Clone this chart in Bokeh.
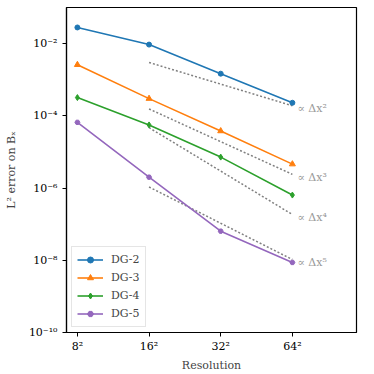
from bokeh.plotting import figure
from bokeh.models import FixedTicker, CustomJSTickFormatter, Range1d, Legend, LegendItem, ColumnDataSource
from bokeh.core.properties import value
from bokeh.embed import file_html
from bokeh.resources import INLINE

# data
resolution = [8, 16, 32, 64]
dg2 = [2.8e-2, 9.4e-3, 1.47e-3, 2.3e-4]
dg3 = [2.6e-3, 3.0e-4, 3.8e-5, 4.6e-6]
dg4 = [3.2e-4, 5.6e-5, 7.2e-6, 6.4e-7]
dg5 = [6.6e-5, 2.0e-6, 6.4e-8, 8.7e-9]
series_names = ["DG-2", "DG-3", "DG-4", "DG-5"]

ref_x = [16, 64]
ref2 = [3.0e-3, 1.9e-4]
ref3 = [1.55e-4, 2.4e-6]
ref4 = [4.7e-5, 1.85e-7]
ref5 = [1.07e-6, 1.05e-8]
ref_labels = ["∝ Δx²", "∝ Δx³", "∝ Δx⁴", "∝ Δx⁵"]

x_ticks = [8, 16, 32, 64]
y_ticks = [1e-10, 1e-8, 1e-6, 1e-4, 1e-2]

FONT = "DejaVu Serif"
colors = ["#1f77b4", "#ff7f0e", "#2ca02c", "#9467bd"]
markers = ["circle", "triangle", "diamond", "hex"]
msizes = [5, 6, 6, 5]

p = figure(frame_width=290, frame_height=325, x_axis_type="log", y_axis_type="log",
           x_range=Range1d(7.2, 119), y_range=Range1d(1e-10, 1e-1),
           output_backend="svg", toolbar_location=None,
           min_border_left=66, min_border_right=3, min_border_top=7, min_border_bottom=30)

p.xgrid.visible = False
p.ygrid.visible = False
p.outline_line_color = "black"
p.outline_line_width = 1.2

p.xaxis.ticker = FixedTicker(ticks=x_ticks)
p.yaxis.ticker = FixedTicker(ticks=y_ticks)
p.xaxis.formatter = CustomJSTickFormatter(code="return Math.round(tick) + '\u00b2';")
p.yaxis.formatter = CustomJSTickFormatter(code="""
const sup = {'-':'\u207b','0':'\u2070','1':'\u00b9','2':'\u00b2','3':'\u00b3','4':'\u2074','5':'\u2075','6':'\u2076','7':'\u2077','8':'\u2078','9':'\u2079'};
const e = String(Math.round(Math.log10(tick)));
let s = '';
for (const c of e) s += sup[c];
return '10' + s;
""")
for ax in (p.xaxis, p.yaxis):
    ax.minor_tick_line_color = None
    ax.major_tick_in = 0
    ax.major_tick_out = 4
    ax.major_label_text_font = FONT
    ax.major_label_text_font_size = "11px"
    ax.major_label_text_color = "black"
    ax.axis_label_text_font = FONT
    ax.axis_label_text_font_size = "11px"
    ax.axis_label_text_font_style = "normal"
    ax.axis_line_color = "black"
    ax.axis_line_width = 1.2
    ax.major_tick_line_width = 1
p.xaxis.axis_label = "Resolution"
p.yaxis.axis_label = "L² error on Bₓ"
p.xaxis.axis_label_standoff = 3
p.yaxis.axis_label_standoff = 8
p.xaxis.major_label_standoff = 3

# reference slopes
for ry, lab in zip([ref2, ref3, ref4, ref5], ref_labels):
    p.line(ref_x, ry, line_color="#808080", line_width=1.5, line_dash="2 2")
    p.text(x=[ref_x[1]], y=[ry[1]], text=[lab], x_offset=5, y_offset=3,
           text_font=value(FONT), text_font_size="11px", text_color="#999999",
           text_baseline="middle", text_align="left")

items = []
for ys, name, c, m, s in zip([dg2, dg3, dg4, dg5], series_names, colors, markers, msizes):
    src = ColumnDataSource(dict(x=resolution, y=ys))
    l = p.line("x", "y", source=src, line_color=c, line_width=1.6)
    sc = p.scatter("x", "y", source=src, marker=m, size=s, fill_color=c, line_color=c)
    items.append(LegendItem(label=name, renderers=[l, sc]))

legend = Legend(items=items, location="bottom_left")
legend.label_text_font = FONT
legend.label_text_font_size = "11px"
legend.label_height = 15
legend.border_line_color = "#cccccc"
legend.border_line_width = 1
legend.background_fill_alpha = 0.8
legend.glyph_width = 26
legend.glyph_height = 15
legend.spacing = 3
legend.padding = 5
legend.margin = 5
legend.label_standoff = 8
p.add_layout(legend)

open("out.html", "w").write(file_html(p, INLINE))
